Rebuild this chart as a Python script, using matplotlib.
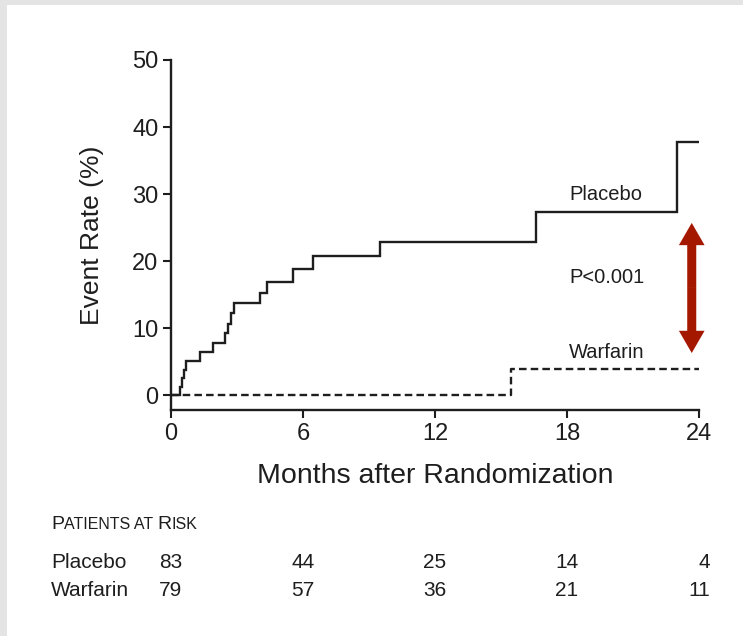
import matplotlib
matplotlib.use("Agg")
import matplotlib.pyplot as plt
import matplotlib.transforms as mtransforms
from matplotlib.patches import Rectangle, FancyArrowPatch
from matplotlib.offsetbox import TextArea, HPacker, AnchoredOffsetbox

# event curves (months, cumulative event rate %)
placebo_t = [0, 0.41, 0.5, 0.6, 0.68, 1.32, 1.92, 2.45, 2.6, 2.73, 2.86,
             4.05, 4.38, 5.53, 6.45, 9.5, 16.6, 23.0, 24]
placebo_y = [0, 1.3, 2.5, 3.8, 5.1, 6.5, 7.8, 9.3, 10.7, 12.2, 13.7,
             15.3, 16.9, 18.8, 20.7, 22.8, 27.4, 37.7, 37.7]
warfarin_t = [0, 15.45, 24]
warfarin_y = [0, 3.9, 3.9]

x_ticks = [0, 6, 12, 18, 24]
y_ticks = [0, 10, 20, 30, 40, 50]

risk_groups = ["Placebo", "Warfarin"]
risk_placebo = [83, 44, 25, 14, 4]
risk_warfarin = [79, 57, 36, 21, 11]

ink = "#1e1e1e"
arrow_red = "#a51800"
plt.rcParams["font.family"] = ["Liberation Sans", "DejaVu Sans"]

fig = plt.figure(figsize=(7.43, 6.36), dpi=100, facecolor="#e4e4e4")
fig.add_artist(Rectangle((7 / 743, 0), 1, 1 - 5 / 636, transform=fig.transFigure,
                         facecolor="white", edgecolor="none", zorder=-10))

ax = fig.add_axes([171 / 743, 1 - 410 / 636, 528 / 743, 350 / 636])
ax.set_facecolor("none")

ax.step(placebo_t, placebo_y, where="post", color=ink, lw=1.7, solid_joinstyle="miter")
ax.step(warfarin_t, warfarin_y, where="post", color=ink, lw=1.7,
        linestyle=(0, (3.2, 1.75)))

ax.set_xlim(0, 24)
ax.set_ylim(-2.2, 50)
ax.set_xticks(x_ticks)
ax.set_yticks(y_ticks)
for s in ["top", "right"]:
    ax.spines[s].set_visible(False)
for s in ["left", "bottom"]:
    ax.spines[s].set_linewidth(1.7)
    ax.spines[s].set_color(ink)
ax.tick_params(axis="both", direction="out", length=6, width=1.5, color=ink,
               labelcolor=ink, labelsize=17, pad=3)

ax.set_xlabel("Months after Randomization", fontsize=20.5, color=ink, labelpad=13)
ax.set_ylabel("Event Rate (%)", fontsize=19, color=ink, labelpad=20)

ax.text(18.1, 29.9, "Placebo", fontsize=14.5, color=ink, ha="left", va="center")
ax.text(18.1, 17.5, "P<0.001", fontsize=14.5, color=ink, ha="left", va="center")
ax.text(18.1, 6.4, "Warfarin", fontsize=14.5, color=ink, ha="left", va="center")

# double-headed arrow between the curves
arrow_x, arrow_top, arrow_bot = 23.67, 25.7, 6.3
mid = (arrow_top + arrow_bot) / 2
for end in (arrow_top, arrow_bot):
    ax.add_patch(FancyArrowPatch((arrow_x, mid), (arrow_x, end),
                                 arrowstyle="simple,head_length=1.6,head_width=1.85,tail_width=0.65",
                                 mutation_scale=10, color=arrow_red, lw=0,
                                 shrinkA=0, shrinkB=0, clip_on=False))

# patients at risk table
title_parts = [("P", 14), ("ATIENTS AT ", 11.5), ("R", 14), ("ISK", 11.5)]
pack = HPacker(children=[TextArea(t, textprops=dict(fontsize=s, color=ink))
                         for t, s in title_parts],
               align="baseline", pad=0, sep=0)
fig.add_artist(AnchoredOffsetbox(loc="lower left", child=pack, pad=0, borderpad=0,
                                 frameon=False, bbox_to_anchor=(51 / 743, 1 - 533 / 636),
                                 bbox_transform=fig.transFigure))

blend = mtransforms.blended_transform_factory(ax.transData, fig.transFigure)
row_y = [1 - 563 / 636, 1 - 591 / 636]
for name, counts, yy in zip(risk_groups, [risk_placebo, risk_warfarin], row_y):
    fig.text(51 / 743, yy, name, fontsize=15, color=ink, ha="left", va="center")
    for i, (m, n) in enumerate(zip(x_ticks, counts)):
        last = i == len(x_ticks) - 1
        ax.text(m + (0.5 if last else 0), yy, str(n), transform=blend,
                fontsize=15, color=ink,
                ha="right" if last else "center", va="center")

fig.savefig("out.png", dpi=100, facecolor=fig.get_facecolor())
